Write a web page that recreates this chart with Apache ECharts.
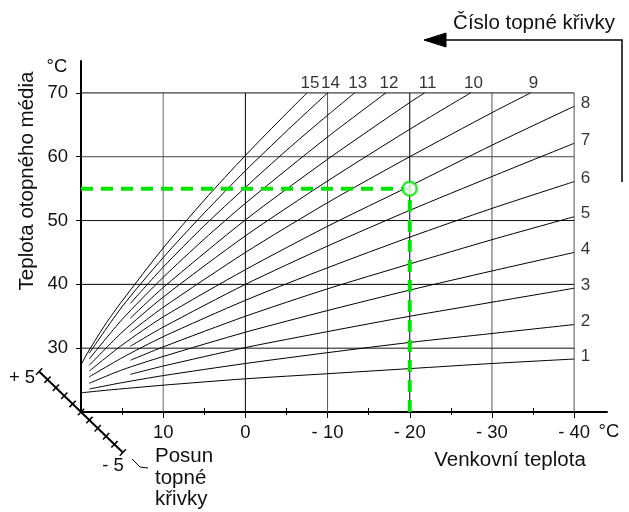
<!DOCTYPE html>
<html><head><meta charset="utf-8">
<script src="https://cdn.jsdelivr.net/npm/echarts@6/dist/echarts.min.js"></script>
<style>html,body{margin:0;padding:0;background:#fff}#c{width:629px;height:512px}</style>
</head><body><div id="c"></div>
<script>
// ---- data ----
const curveNumbers = [1,2,3,4,5,6,7,8,9,10,11,12,13,14,15];
const curve1  = [[21.9,22.7],[20,23.0],[17,23.4],[10,24.2],[0,25.2],[-10,26.0],[-20,26.8],[-30,27.6],[-40,28.3]];
const curve2  = [[19,23.6],[15,24.6],[10,25.7],[0,27.6],[-10,29.3],[-20,30.9],[-30,32.3],[-40,33.7]];
const curve3  = [[14,25.9],[10,27.2],[0,30.1],[-10,32.6],[-20,35.0],[-30,37.2],[-40,39.4]];
const curve4  = [[19,24.5],[15,26.6],[10,28.7],[0,32.5],[-10,35.9],[-20,39.1],[-30,42.1],[-40,45.0]];
const curve5  = [[14,28.1],[10,30.2],[0,35.0],[-10,39.3],[-20,43.2],[-30,47.0],[-40,50.6]];
const curve6  = [[19,25.5],[15,28.5],[10,31.8],[0,37.5],[-10,42.6],[-20,47.4],[-30,51.9],[-40,56.1]];
const curve7  = [[14,30.3],[10,33.3],[0,40.0],[-10,46.0],[-20,51.6],[-30,56.9],[-40,62.1]];
const curve8  = [[19,26.4],[15,30.5],[10,34.9],[0,42.3],[-10,49.1],[-20,55.4],[-30,61.8],[-40,67.9]];
const curve9  = [[14,32.5],[10,36.4],[0,45.0],[-10,52.8],[-20,60.0],[-30,66.9],[-34.7,70]];
const curve10 = [[19,27.3],[15,32.5],[10,38.0],[0,47.6],[-10,56.2],[-20,64.3],[-27.4,70]];
const curve11 = [[14,34.7],[10,39.5],[0,50.1],[-10,59.6],[-20,68.5],[-21.8,70]];
const curve12 = [[19,28.3],[15,34.5],[10,41.1],[5,47.1],[0,52.7],[-10,63.1],[-17.1,70]];
const curve13 = [[14,37.0],[10,42.7],[5,49.2],[0,55.2],[-5,61.0],[-10,66.5],[-13.3,70]];
const curve14 = [[19,29.2],[15,36.5],[10,44.2],[5,51.2],[0,57.8],[-5,64.0],[-10,70]];
const curve15 = [[21.9,22.7],[21,24.7],[20,27.4],[19,29.7],[17,33.8],[15,37.4],[10,45.7],[5,53.2],[0,60.2],[-5,66.8],[-7.5,70]];
const curves = [curve1,curve2,curve3,curve4,curve5,curve6,curve7,curve8,curve9,curve10,curve11,curve12,curve13,curve14,curve15];

const xTickValues = [10,0,-10,-20,-30,-40];
const xMinorTickValues = [15,5,-5,-15,-25,-35];
const yTickValues = [30,40,50,60,70];
const gridXValues = [10,0,-10,-20,-30,-40];
const gridYValues = [30,40,50,60,70];
const selectedPoint = [-20,55];
const selectedPath = [[20,55],[-20,55],[-20,20]];

// ---- styles ----
const FONT = '"Liberation Sans", Arial, Helvetica, sans-serif';
const gridXColors = ['#666','#000','#555','#000','#555','#555'];
const gridYColors = ['#111','#000','#111','#444','#111'];
const GREEN = '#00e600';

const X_MIN = -44, X_MAX = 20, Y_MIN = 20, Y_MAX = 75;

const chart = echarts.init(document.getElementById('c'), null, {renderer: 'canvas'});

const series = [];
gridXValues.forEach((x, i) => series.push({
  type: 'line', silent: true, symbol: 'none', z: 1, animation: false,
  data: [[x, Y_MIN], [x, 70]], lineStyle: {color: gridXColors[i], width: 1}
}));
gridYValues.forEach((y, i) => series.push({
  type: 'line', silent: true, symbol: 'none', z: 1, animation: false,
  data: [[X_MAX, y], [-40, y]], lineStyle: {color: gridYColors[i], width: 1}
}));
curves.forEach((c, i) => series.push({
  type: 'line', name: 'Křivka ' + curveNumbers[i], silent: true, symbol: 'none', z: 3,
  smooth: 0.25, clip: false, animation: false,
  data: c, lineStyle: {color: '#000', width: 1}
}));
series.push({
  type: 'line', silent: true, symbol: 'none', z: 5, animation: false,
  data: selectedPath, lineStyle: {color: GREEN, width: 4, type: [12, 8]}
});
series.push({
  type: 'scatter', silent: true, z: 6, animation: false,
  symbol: 'circle', symbolSize: 14,
  itemStyle: {color: '#fff', borderColor: GREEN, borderWidth: 2.5},
  data: [selectedPoint]
});
series.push({
  type: 'scatter', silent: true, z: 7, animation: false,
  symbolSize: 1, itemStyle: {color: 'rgba(0,0,0,0)'},
  label: {show: true, formatter: '{b}', color: '#000', fontSize: 17, fontFamily: FONT},
  data: curves.map((c, i) => {
    const end = c[c.length - 1];
    const atRight = end[0] === -40;
    return {
      name: String(curveNumbers[i]), value: end,
      label: atRight ? {position: 'right', distance: 6, offset: [0, -3]}
                     : {position: 'top', distance: 1, offset: [3, 0]}
    };
  })
});

const xFmt = v => v < 0 ? '- ' + (-v) : String(v);

chart.setOption({
  animation: false,
  backgroundColor: '#fff',
  grid: {left: 81, top: 61, width: 526, height: 351, containLabel: false},
  xAxis: [
    {type: 'value', min: X_MIN, max: X_MAX, inverse: true, position: 'bottom',
     axisLine: {show: true, onZero: false, lineStyle: {color: '#000', width: 2}},
     axisTick: {show: true, customValues: xTickValues, length: 6, lineStyle: {color: '#000', width: 1}},
     axisLabel: {show: true, customValues: xTickValues, formatter: xFmt, margin: 11,
                 color: '#111', fontSize: 18.5, fontFamily: FONT},
     splitLine: {show: false}},
    {type: 'value', min: X_MIN, max: X_MAX, inverse: true, position: 'bottom',
     axisLine: {show: false, onZero: false},
     axisTick: {show: true, inside: true, customValues: xMinorTickValues, length: 4, lineStyle: {color: '#000', width: 1}},
     axisLabel: {show: false}, splitLine: {show: false}},
    {type: 'value', min: X_MIN, max: X_MAX, inverse: true, position: 'bottom',
     axisLine: {show: false, onZero: false},
     axisTick: {show: true, inside: false, customValues: xMinorTickValues, length: 3, lineStyle: {color: '#000', width: 1}},
     axisLabel: {show: false}, splitLine: {show: false}}
  ],
  yAxis: {
    type: 'value', min: Y_MIN, max: Y_MAX,
    axisLine: {show: true, onZero: false, lineStyle: {color: '#000', width: 2}},
    axisTick: {show: true, customValues: yTickValues, length: 5, lineStyle: {color: '#000', width: 1}},
    axisLabel: {show: true, customValues: yTickValues, margin: 13, color: '#111', fontSize: 18.5, fontFamily: FONT},
    splitLine: {show: false}
  },
  series: series
});

// ---- annotations ----
const o = chart.convertToPixel({gridIndex: 0}, [X_MAX, Y_MIN]); // axes corner
const dir = [0.719, 0.695];          // direction of the "posun" scale (down-right)
const perp = [0.695, -0.719];
const step = 11.64;
const g = [];
const txt = (text, x, y, size, align, rot) => ({
  type: 'text', x: x, y: y, rotation: rot || 0, silent: true, z: 20,
  style: {text: text, fill: '#111', font: size + 'px ' + FONT, align: align || 'center', verticalAlign: 'middle'}
});
g.push({type: 'line', silent: true, z: 10,
  shape: {x1: o[0] - dir[0] * step * 5, y1: o[1] - dir[1] * step * 5, x2: o[0] + dir[0] * step * 5, y2: o[1] + dir[1] * step * 5},
  style: {stroke: '#000', lineWidth: 2}});
for (let k = -5; k <= 5; k++) {
  const cx = o[0] - dir[0] * step * k, cy = o[1] - dir[1] * step * k;
  g.push({type: 'line', silent: true, z: 10,
    shape: {x1: cx - perp[0] * 4.5, y1: cy - perp[1] * 4.5, x2: cx + perp[0] * 4.5, y2: cy + perp[1] * 4.5},
    style: {stroke: '#000', lineWidth: 1.5}});
}
g.push(txt('+ 5', 22, 378, 18.5));
g.push(txt('- 5', 113, 466, 18.5));
g.push({type: 'polyline', silent: true, z: 10, shape: {points: [[132, 459], [140, 467], [148, 468]]},
  style: {stroke: '#000', lineWidth: 1, fill: null}});
g.push(txt('Posun', 155, 456, 20.5, 'left'));
g.push(txt('topné', 155, 478, 20.5, 'left'));
g.push(txt('křivky', 155, 499, 20.5, 'left'));
g.push(txt('Teplota otopného média', 27, 181, 20.5, 'center', Math.PI / 2));
g.push(txt('°C', 57, 67, 18.5));
g.push(txt('°C', 609, 432, 18.5));
g.push(txt('Venkovní teplota', 510, 460, 20.5));
g.push(txt('Číslo topné křivky', 534, 23, 20.5));
g.push({type: 'polyline', silent: true, z: 10, shape: {points: [[622, 182], [622, 40], [440, 40]]},
  style: {stroke: '#000', lineWidth: 1.5, fill: null}});
g.push({type: 'polygon', silent: true, z: 10, shape: {points: [[424, 40], [446, 33], [446, 47]]},
  style: {fill: '#000', stroke: '#000', lineWidth: 1}});

chart.setOption({graphic: g});
</script></body></html>
